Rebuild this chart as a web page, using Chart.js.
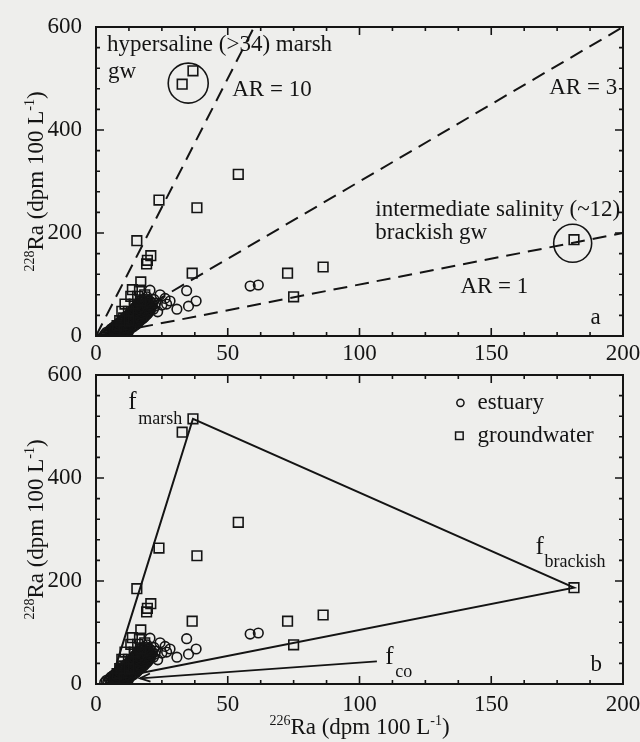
<!DOCTYPE html>
<html><head><meta charset="utf-8">
<script src="https://cdn.jsdelivr.net/npm/chart.js@4.4.1/dist/chart.umd.min.js"></script>
<style>
html,body{margin:0;padding:0;background:#eeeeec;width:640px;height:742px;overflow:hidden}
canvas{position:absolute;left:0}
#c1{top:0;z-index:2}
#c2{top:360px;z-index:1}
</style></head><body>
<canvas id="c1" width="640" height="368"></canvas>
<canvas id="c2" width="640" height="382"></canvas>
<script>
// ---------- data ----------
const xMajor = [0, 50, 100, 150, 200];
const yMajor = [0, 200, 400, 600];
const xMinorStep = 12.5;
const yMinorStep = 40;

const groundwater = [
  [32.7,489],[36.8,515],[54.0,314],[38.3,249],[23.9,264],[15.5,185],
  [20.8,156],[19.5,147],[19.2,140],[36.5,122],[72.7,122],[86.2,134],
  [75.0,76],[181.4,187],
  [17.0,105],[13.8,90],[16.5,89],[13.2,77],[15.8,77],[18.5,80],
  [9.8,48],[12.3,48],[11.0,62],[14.5,62],[17.0,68],[10.5,35],
  [12.5,30],[8.0,20],[9.0,30],[7.0,12]
];

const estuary = [
  [58.5,97],[61.6,99],[34.4,88],[38.0,68],[35.1,58],[30.7,52],[28.1,68],
  [26.2,73],[23.4,47],[24.3,80],[20.5,89],[22.0,71],[19.4,76],[26.8,62],
  [25.0,60],[20.5,57],
  [3.3,3],[3.9,7],
  [4.5,5],[5.7,4],[6.9,6],[8.1,4],[9.3,5],[10.5,4],[11.7,6],
  [5.1,8],[6.3,7],[7.5,8],[8.7,7],[9.9,8],[11.1,7],[12.3,8],
  [5.2,11],[6.4,10],[7.6,12],[8.8,10],[10.0,11],[11.2,10],[12.4,12],
  [5.8,14],[7.0,13],[8.2,14],[9.4,13],[10.6,14],[11.8,13],[13.0,14],
  [6.6,17],[7.8,16],[9.0,15],[10.2,17],[11.4,16],[12.6,15],[13.8,17],
  [7.2,19],[8.4,20],[9.6,19],[10.8,20],[12.0,19],[13.2,20],[14.4,19],
  [8.0,22],[9.2,23],[10.4,21],[11.6,22],[12.8,23],[14.0,21],[15.2,22],
  [8.6,25],[9.8,26],[11.0,25],[12.2,26],[13.4,25],[14.6,26],[15.8,25],
  [9.2,28],[10.4,29],[11.6,27],[12.8,28],[14.0,29],[15.2,27],[16.4,28],
  [9.8,31],[11.0,32],[12.2,31],[13.4,32],[14.6,31],[15.8,32],[17.0,31],
  [10.6,34],[11.8,35],[13.0,33],[14.2,34],[15.4,35],[16.6,33],[17.8,34],
  [11.2,37],[12.4,38],[13.6,37],[14.8,38],[16.0,37],[17.2,38],[18.4,37],
  [12.0,40],[13.2,41],[14.4,39],[15.6,40],[16.8,41],[18.0,39],[19.0,40],
  [12.6,43],[13.8,44],[15.0,43],[16.2,44],[17.4,43],[18.6,44],[19.6,43],
  [13.0,46],[14.2,47],[15.4,45],[16.6,46],[17.8,47],[19.0,45],[20.0,46],
  [13.6,49],[14.8,50],[16.0,49],[17.2,50],[18.4,49],[19.6,50],[20.6,49],
  [14.2,52],[15.4,53],[16.6,51],[17.8,52],[19.0,53],[20.4,51],[21.8,52],
  [14.8,55],[16.0,56],[17.2,55],[18.4,56],[19.6,55],[20.8,56],
  [15.2,58],[16.4,59],[17.6,57],[18.8,58],[20.0,59],[21.2,57],[22.4,58],
  [15.8,61],[17.0,62],[18.2,61],[19.4,62],[20.6,61],
  [16.2,64],[17.4,65],[18.6,63],[19.8,64],[21.0,65],[22.6,64],
  [16.8,67],[18.0,68],[19.2,67],[20.4,68],
  [17.4,70],[18.6,71],[19.8,69]
];

// activity-ratio reference lines (panel a)
const ar10 = [[0,0],[60,600]];
const ar3 = [[0,0],[200,600]];
const ar1 = [[0,0],[200,200]];

// end-members and mixing triangle (panel b)
const fCo = [6,10];
const fMarsh = [36.8,515];
const fBrackish = [181.4,187];
const mixing = [fCo, fMarsh, fBrackish, fCo];
const coArrow = [[106.6,44],[16.7,11]];

// ---------- styling ----------
const FONT = '"Liberation Serif", "Times New Roman", serif';
const INK = '#141414';
const FS = 23;

const pts = a => a.map(([x,y]) => ({x, y}));

function drawRich(ctx, parts, x, y, size, align) {
  let w = 0;
  const fonts = parts.map(p => (p[1] ? Math.round(size*0.62) : size) + 'px ' + FONT);
  parts.forEach((p,i) => { ctx.font = fonts[i]; w += ctx.measureText(p[0]).width; });
  let cx = align === 'center' ? x - w/2 : (align === 'right' ? x - w : x);
  ctx.textAlign = 'left';
  parts.forEach((p,i) => {
    ctx.font = fonts[i];
    const dy = p[1] === 1 ? -size*0.40 : (p[1] === -1 ? size*0.28 : 0);
    ctx.fillText(p[0], cx, y + dy);
    cx += ctx.measureText(p[0]).width;
  });
}

function makeDeco(cfg) {
  return {
    id: 'deco',
    afterDatasetsDraw(chart) {
      const ctx = chart.ctx, a = chart.chartArea, xs = chart.scales.x, ys = chart.scales.y;
      const X = v => xs.getPixelForValue(v), Y = v => ys.getPixelForValue(v);
      ctx.save();
      ctx.strokeStyle = INK; ctx.fillStyle = INK;
      ctx.lineWidth = 2;
      ctx.strokeRect(a.left, a.top, a.right - a.left, a.bottom - a.top);
      ctx.lineWidth = 1.6;
      ctx.beginPath();
      xs.ticks.forEach(t => {
        const p = X(t.value), L = xMajor.includes(t.value) ? 8 : 4;
        ctx.moveTo(p, a.bottom); ctx.lineTo(p, a.bottom - L);
        ctx.moveTo(p, a.top); ctx.lineTo(p, a.top + L);
      });
      ys.ticks.forEach(t => {
        const p = Y(t.value), L = yMajor.includes(t.value) ? 8 : 4;
        ctx.moveTo(a.left, p); ctx.lineTo(a.left + L, p);
        ctx.moveTo(a.right, p); ctx.lineTo(a.right - L, p);
      });
      ctx.stroke();
      ctx.lineWidth = 1.6;
      (cfg.rings || []).forEach(r => {
        ctx.beginPath(); ctx.arc(X(r[0]), Y(r[1]), r[2], 0, Math.PI*2); ctx.stroke();
      });
      if (cfg.arrow) {
        const [p0, p1] = cfg.arrow;
        const x0 = X(p0[0]), y0 = Y(p0[1]), x1 = X(p1[0]), y1 = Y(p1[1]);
        const ang = Math.atan2(y1 - y0, x1 - x0), L = 11, s = 0.38;
        ctx.lineWidth = 1.8;
        ctx.beginPath();
        ctx.moveTo(x1 - L*Math.cos(ang - s), y1 - L*Math.sin(ang - s));
        ctx.lineTo(x1, y1);
        ctx.lineTo(x1 - L*Math.cos(ang + s), y1 - L*Math.sin(ang + s));
        ctx.stroke();
      }
      if (cfg.legend) {
        ctx.lineWidth = 1.5;
        cfg.legend.forEach(l => {
          const px = X(l.x), py = Y(l.y);
          ctx.beginPath();
          if (l.shape === 'circle') ctx.arc(px, py, 3.6, 0, Math.PI*2);
          else ctx.rect(px - 3.8, py - 3.8, 7.6, 7.6);
          ctx.stroke();
          ctx.textBaseline = 'middle'; ctx.textAlign = 'left';
          ctx.font = FS + 'px ' + FONT;
          ctx.fillText(l.text, X(l.tx), py);
        });
      }
      ctx.textBaseline = 'middle';
      (cfg.labels || []).forEach(l => {
        ctx.font = (l.size || FS) + 'px ' + FONT;
        ctx.textAlign = 'left';
        ctx.fillText(l.text, X(l.x), Y(l.y));
      });
      ctx.save();
      ctx.translate(43, (a.top + a.bottom)/2);
      ctx.rotate(-Math.PI/2);
      ctx.textBaseline = 'alphabetic';
      drawRich(ctx, [['228',1],['Ra (dpm 100 L',0],['-1',1],[')',0]], 0, 0, FS, 'center');
      ctx.restore();
      if (cfg.xTitle) {
        ctx.textBaseline = 'alphabetic';
        drawRich(ctx, [['226',1],['Ra (dpm 100 L',0],['-1',1],[')',0]], (a.left + a.right)/2, a.bottom + 50, FS, 'center');
      }
      ctx.restore();
    }
  };
}

function scales(canvasH, bottom, xPad) {
  return {
    x: {
      type: 'linear', min: 0, max: 200,
      afterFit: s => { s.height = canvasH - bottom; s.paddingLeft = 0; s.paddingRight = 0; },
      grid: { display: false, drawTicks: false }, border: { display: false },
      ticks: { stepSize: xMinorStep, autoSkip: false, maxRotation: 0, padding: xPad,
        color: INK, font: { family: FONT, size: FS },
        callback: v => xMajor.includes(v) ? String(v) : '' }
    },
    y: {
      type: 'linear', min: 0, max: 600,
      afterFit: s => { s.width = 96; s.paddingTop = 0; s.paddingBottom = 0; },
      grid: { display: false, drawTicks: false }, border: { display: false },
      ticks: { stepSize: yMinorStep, autoSkip: false, padding: 14,
        color: INK, font: { family: FONT, size: FS },
        callback: v => yMajor.includes(v) ? String(v) : '' }
    }
  };
}

const markerSets = () => [
  { data: pts(groundwater), pointStyle: 'rect', pointRadius: 6.8, borderColor: INK,
    backgroundColor: 'rgba(0,0,0,0)', pointBorderWidth: 1.6, showLine: false },
  { data: pts(estuary), pointStyle: 'circle', pointRadius: 4.8, borderColor: INK,
    backgroundColor: 'rgba(0,0,0,0)', pointBorderWidth: 1.6, showLine: false }
];
const lineSet = (arr, dash, w) => ({ data: pts(arr), showLine: true, pointRadius: 0,
  borderColor: INK, borderWidth: w, borderDash: dash, fill: false });

Chart.defaults.font.family = FONT;

new Chart(document.getElementById('c1'), {
  type: 'scatter',
  data: { datasets: [
    ...markerSets(),
    lineSet(ar10, [14, 8], 2), lineSet(ar3, [14, 8], 2), lineSet(ar1, [14, 8], 2)
  ]},
  options: {
    responsive: false, animation: false, events: [], devicePixelRatio: 1,
    layout: { padding: { top: 27, right: 17, left: 0, bottom: 0 } },
    plugins: { legend: { display: false }, tooltip: { enabled: false } },
    scales: scales(368, 336, 4)
  },
  plugins: [makeDeco({
    rings: [[35, 491, 20], [180.9, 180, 19]],
    labels: [
      { text: 'hypersaline (>34) marsh', x: 4.2, y: 565 },
      { text: 'gw', x: 4.6, y: 513 },
      { text: 'AR = 10', x: 51.7, y: 478 },
      { text: 'AR = 3', x: 172, y: 482 },
      { text: 'intermediate salinity (~12)', x: 106, y: 245 },
      { text: 'brackish gw', x: 106, y: 200 },
      { text: 'AR = 1', x: 138.3, y: 95 },
      { text: 'a', x: 187.7, y: 35 }
    ]
  })]
});

new Chart(document.getElementById('c2'), {
  type: 'scatter',
  data: { datasets: [
    ...markerSets(),
    lineSet(mixing, [], 2), lineSet(coArrow, [], 1.8)
  ]},
  options: {
    responsive: false, animation: false, events: [], devicePixelRatio: 1,
    layout: { padding: { top: 15, right: 17, left: 0, bottom: 0 } },
    plugins: { legend: { display: false }, tooltip: { enabled: false } },
    scales: scales(382, 324, 7)
  },
  plugins: [makeDeco({
    xTitle: true,
    arrow: coArrow,
    legend: [
      { shape: 'circle', x: 138.3, y: 546, tx: 144.8, text: 'estuary' },
      { shape: 'rect', x: 137.9, y: 482, tx: 144.8, text: 'groundwater' }
    ],
    labels: [
      { text: 'f', x: 12.2, y: 546, size: 25 },
      { text: 'marsh', x: 16.0, y: 514, size: 18 },
      { text: 'f', x: 166.8, y: 266, size: 25 },
      { text: 'brackish', x: 170.2, y: 237, size: 18 },
      { text: 'f', x: 109.8, y: 52, size: 25 },
      { text: 'co', x: 113.6, y: 23, size: 18 },
      { text: 'b', x: 187.7, y: 37 }
    ]
  })]
});
</script>
</body></html>
